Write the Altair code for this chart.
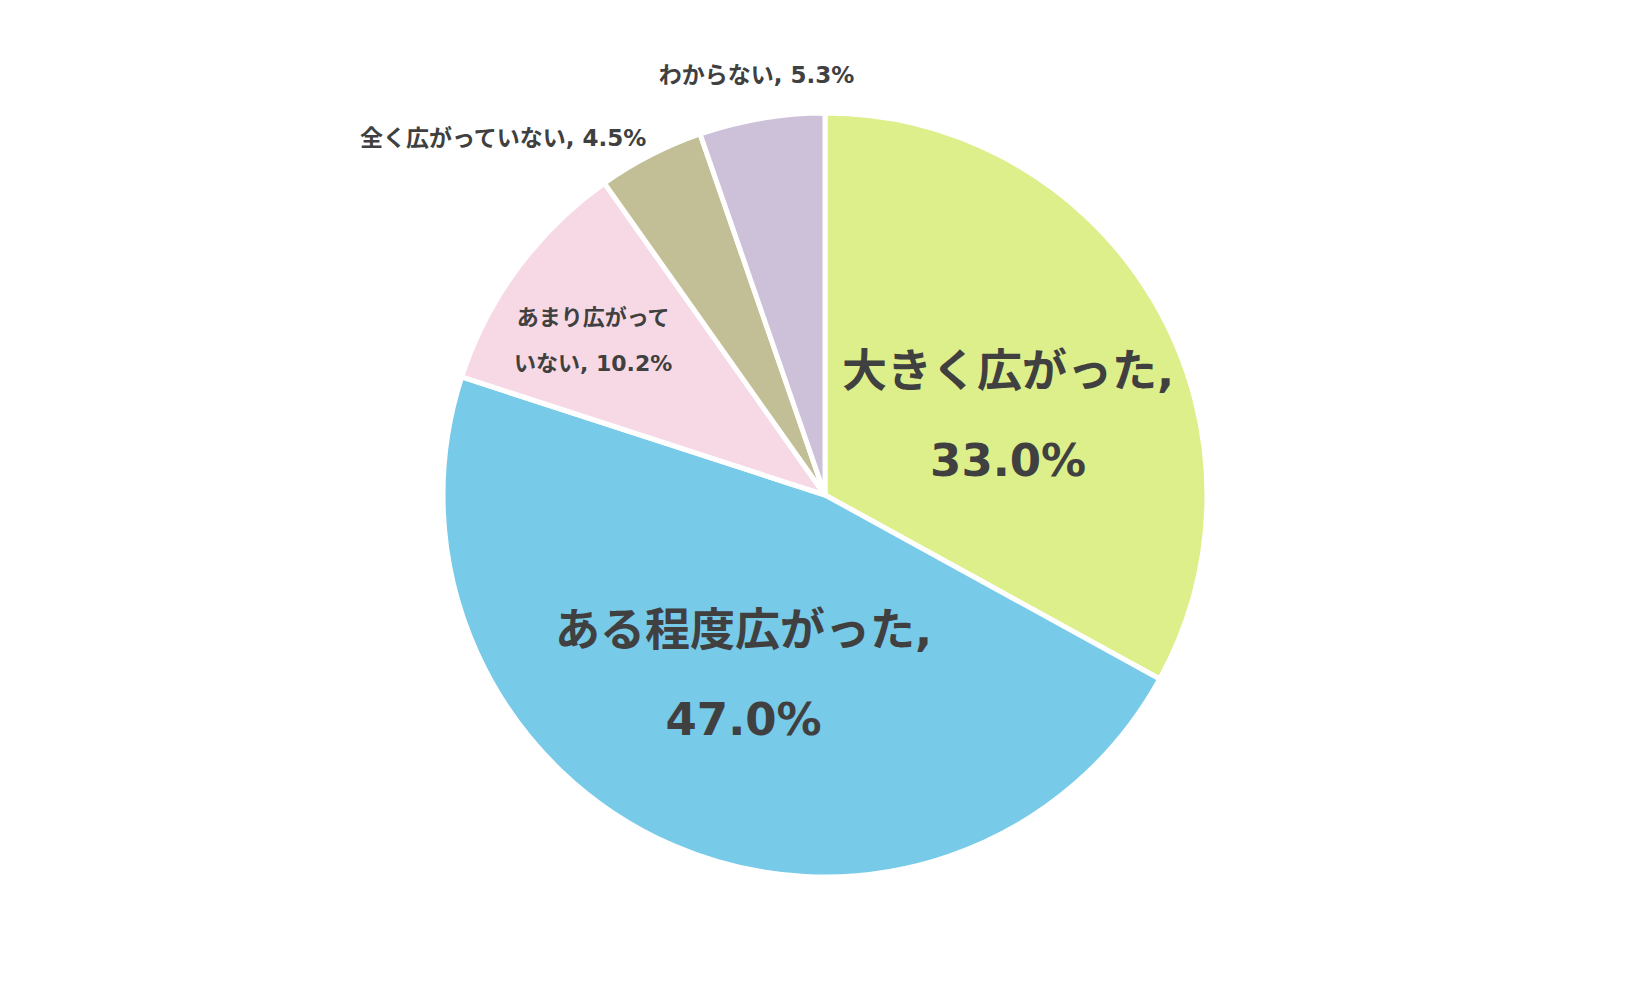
import altair as alt
import pandas as pd

categories = ["大きく広がった", "ある程度広がった", "あまり広がっていない", "全く広がっていない", "わからない"]
values = [33.0, 47.0, 10.2, 4.5, 5.3]
labels = ["大きく広がった,\n33.0%", "ある程度広がった,\n47.0%", "あまり広がって\nいない, 10.2%",
          "全く広がっていない, 4.5%", "わからない, 5.3%"]
label_group = ["big1", "big2", "mid", "outR", "outC"]
colors = ["#DCEF8B", "#78CAE9", "#F7D9E5", "#C2BE96", "#CCC1D9"]

df = pd.DataFrame({
    "category": categories,
    "value": values,
    "label": labels,
    "group": label_group,
    "order": list(range(len(categories))),
})

FONT = "DejaVu Sans, Noto Sans CJK JP"
TXT = "#404040"

base = alt.Chart(df).encode(
    theta=alt.Theta("value:Q", stack=True),
    order=alt.Order("order:Q", sort="ascending"),
)

pie = base.mark_arc(outerRadius=382, stroke="white", strokeWidth=5).encode(
    color=alt.Color("category:N", scale=alt.Scale(domain=categories, range=colors), legend=None)
)


def label_layer(group, **kw):
    return base.mark_text(font=FONT, fontWeight="bold", color=TXT, lineBreak="\n", baseline="middle", **kw).encode(
        text=alt.condition(f"datum.group == '{group}'", alt.Text("label:N"), alt.value(""))
    )


big1 = label_layer("big1", radius=200, fontSize=45, lineHeight=89, align="center", dx=11, dy=-20)
big2 = label_layer("big2", radius=200, fontSize=45, lineHeight=89, align="center", dx=-2, dy=-47)
mid = label_layer("mid", radius=278, fontSize=22, lineHeight=46, align="center", dx=-8, dy=-12)
outR = label_layer("outR", radius=400, fontSize=23, align="right", dx=4)
outC = label_layer("outC", radius=425, fontSize=23, align="center", dx=2)

chart = alt.layer(pie, big1, big2, mid, outR, outC).properties(
    width=1634, height=974, padding=0
).configure_view(strokeWidth=0)

chart.save("out.html", embed_options={"renderer": "svg", "actions": False})
